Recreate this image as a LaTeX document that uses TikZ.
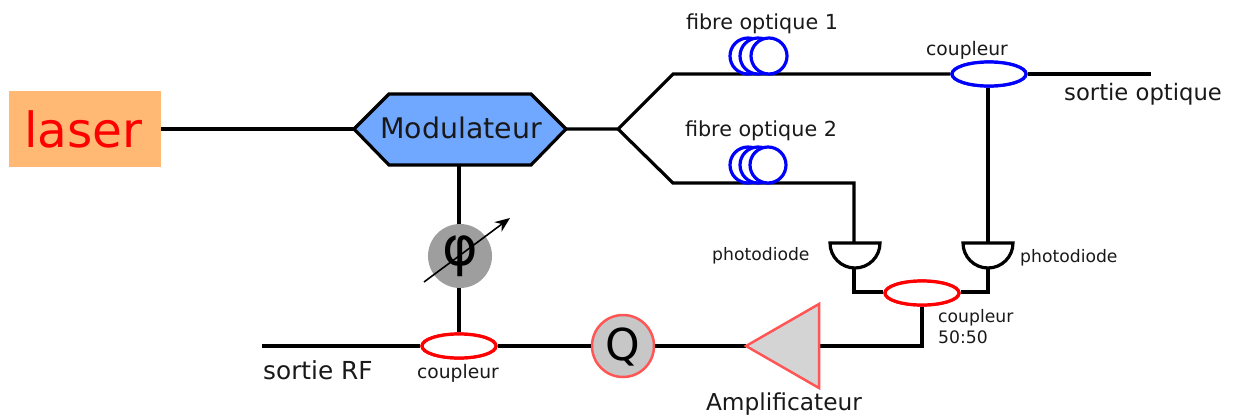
\documentclass[tikz,border=0pt]{standalone}
\usepackage{fontspec}
\setmainfont{DejaVu Sans}
\usetikzlibrary{shapes.geometric,arrows.meta}
\newcommand{\fs}[1]{\fontsize{#1}{#1}\selectfont}
\definecolor{lasercol}{HTML}{FFB974}
\definecolor{modcol}{HTML}{70A8FF}
\definecolor{ampred}{HTML}{FF5555}
\tikzset{
 x=1pt,y=1pt,
 wire/.style={line width=3.2pt,black,line join=miter},
 coupblue/.style={ellipse,draw=blue,line width=3.2pt,fill=white,minimum width=74pt,minimum height=24pt,inner sep=0pt},
 coupred/.style={ellipse,draw=red,line width=3.2pt,fill=white,minimum width=74pt,minimum height=24pt,inner sep=0pt},
 coil/.style={circle,draw=blue,line width=3.2pt,fill=white,minimum size=36pt,inner sep=0pt},
 lab/.style={inner sep=0pt,text=black!90,font=\fs{17.2}},
 cplab/.style={inner sep=0pt,text=black!90,font=\fs{18.7}},
 fibrelab/.style={inner sep=0pt,text=black!90,font=\fs{20.7}},
 diode/.style={wire,fill=white}
}
\begin{document}
\begin{tikzpicture}
\useasboundingbox (0,0) rectangle (1234,-416);
% nodes
\node[fill=lasercol,minimum width=152pt,minimum height=76pt,inner sep=0pt] (laser) at (85,-129) {};
\node[inner sep=0pt,text=red,font=\fs{48.5}] (lasertxt) at (83.5,-129) {laser};
\coordinate (hw) at (354,-129);
\coordinate (he) at (566,-129);
\coordinate (hs) at (459,-165);
\coordinate (split) at (618,-129);
\coordinate (up) at (673,-74);
\coordinate (dn) at (673,-183);
\coordinate (cornerA) at (854,-183);
\coordinate (outopt) at (1151,-74);
\coordinate (pdLt) at (854,-243);
\coordinate (pdRt) at (988,-243);
\coordinate (pdLb) at (854,-268);
\coordinate (pdRb) at (988,-268);
\coordinate (cornerL) at (854,-292);
\coordinate (cornerR) at (988,-292);
\coordinate (cornerB) at (922,-346);
\coordinate (rfout) at (262,-346);
\coordinate (ampL) at (746,-346);
\coordinate (ampR) at (819,-346);
\coordinate (arrA) at (424,-282);
\coordinate (arrB) at (510,-218);
\node[coupblue] (c1) at (989,-74) {};
\node[coupred] (c50) at (922,-293) {};
\node[coupred] (c3) at (459,-346) {};
\node[circle,fill=black!38,minimum size=64pt,inner sep=0pt] (phi) at (460,-256) {};
\node[circle,draw=ampred,line width=2.5pt,fill=black!22,minimum size=62pt,inner sep=0pt] (Q) at (623,-346) {};
% wires
\draw[wire] (laser.east) -- (hw);
\draw[wire] (he) -- (split) -- (up) -- (c1.west);
\draw[wire] (c1.east) -- (outopt);
\draw[wire] (split) -- (dn) -- (cornerA) -- (pdLt);
\draw[wire] (c1.south -| pdRt) -- (pdRt);
\draw[wire] (pdLb) -- (cornerL) -- (c50.west |- cornerL);
\draw[wire] (pdRb) -- (cornerR) -- (c50.east |- cornerR);
\draw[wire] (c50.south) -- (cornerB) -- (ampR);
\draw[wire] (ampL) -- (Q.east);
\draw[wire] (Q.west) -- (c3.east);
\draw[wire] (c3.west) -- (rfout);
\draw[wire] (c3.north) -- (phi.south -| c3.north);
\draw[wire] (phi.north -| hs) -- (hs);
% redraw
\node[coupblue] at (c1) {};
\node[coupred] at (c50) {};
\node[coupred] at (c3) {};
% modulator
\draw[line width=3.2pt,fill=modcol,line join=miter] (hw) -- (389,-94) -- (531,-94) -- (he) -- (531,-165) -- (389,-165) -- cycle;
\node[inner sep=0pt,font=\fs{28.4},text=black!90] (mod) at (461,-128) {Modulateur};
% fibres
\node[coil] (f1a) at (748,-56) {};
\node[coil] (f1b) at (758,-56) {};
\node[coil] (f1c) at (769,-56) {};
\node[coil] (f2a) at (748,-165) {};
\node[coil] (f2b) at (758,-165) {};
\node[coil] (f2c) at (768,-165) {};
% photodiodes
\draw[diode] (830,-243) -- (880,-243) arc[start angle=0,end angle=-180,x radius=25,y radius=25] -- cycle;
\draw[diode] (963,-243) -- (1013,-243) arc[start angle=0,end angle=-180,x radius=25,y radius=25] -- cycle;
% amplifier
\path[fill=black!17,draw=ampred,line width=2.5pt,line join=miter] (ampL) -- (819,-304) -- (819,-388) -- cycle;
% phase & Q
\node[inner sep=0pt,font=\fs{54}] (phitxt) at (460,-256) {φ};
\node[inner sep=0pt,font=\fs{44}] (qtxt) at (623,-347) {Q};
\draw[line width=1.6pt,-{Stealth[length=15pt,width=12pt]}] (arrA) -- (arrB);
% labels
\node[fibrelab] (l1) at (762,-24) {fibre optique 1};
\node[fibrelab] (l2) at (761,-131) {fibre optique 2};
\node[cplab] (l3) at (967,-50) {coupleur};
\node[inner sep=0pt,text=black!90,font=\fs{22.7},anchor=west] (l4) at (1064,-94) {sortie optique};
\node[lab,anchor=west] (l5) at (712,-256) {photodiode};
\node[lab,anchor=west] (l6) at (1020,-258) {photodiode};
\node[lab,anchor=north west,align=left] (l7) at (938,-309) {coupleur\\[4pt]50:50};
\node[cplab] (l8) at (458,-373) {coupleur};
\node[inner sep=0pt,text=black!90,font=\fs{24.8},anchor=west] (l9) at (263,-370) {sortie RF};
\node[inner sep=0pt,text=black!90,font=\fs{23.3}] (l10) at (784,-404) {Amplificateur};
\end{tikzpicture}
\end{document}
